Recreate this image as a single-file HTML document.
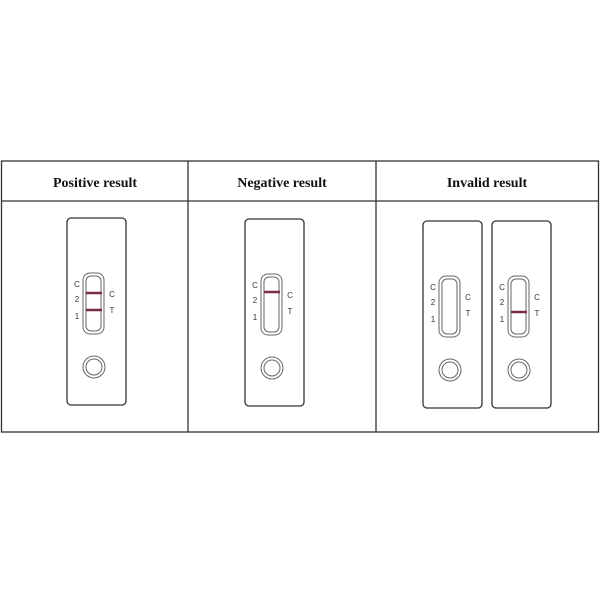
<!DOCTYPE html>
<html><head><style>body{margin:0;background:#fff}svg{display:block}</style></head>
<body>
<svg width="600" height="600" viewBox="0 0 600 600" xmlns="http://www.w3.org/2000/svg">
<rect x="1.5" y="161" width="597" height="271" fill="none" stroke="#333" stroke-width="1.3"/>
<line x1="1" y1="201" x2="599" y2="201" stroke="#333" stroke-width="1.3"/>
<line x1="188" y1="161" x2="188" y2="432" stroke="#333" stroke-width="1.3"/>
<line x1="376" y1="161" x2="376" y2="432" stroke="#333" stroke-width="1.3"/>
<g font-family="Liberation Serif, serif" font-weight="bold" font-size="14" text-anchor="middle" fill="#111">
<text x="95" y="187">Positive result</text>
<text x="282" y="187">Negative result</text>
<text x="487" y="187">Invalid result</text>
</g>
<defs>
<g id="card">
<rect x="0" y="0" width="59" height="187" rx="4" fill="#fff" stroke="#333" stroke-width="1.3"/>
<rect x="16" y="55" width="21" height="61" rx="7" fill="none" stroke="#666" stroke-width="1"/>
<rect x="19" y="58" width="15" height="55" rx="5" fill="none" stroke="#666" stroke-width="1"/>
<circle cx="27" cy="149" r="11" fill="none" stroke="#666" stroke-width="1"/>
<circle cx="27" cy="149" r="8" fill="none" stroke="#666" stroke-width="1"/>
<g font-family="Liberation Sans, sans-serif" font-size="8" fill="#333" text-anchor="middle">
<text x="10" y="69">C</text><text x="10" y="84">2</text><text x="10" y="101">1</text>
<text x="45" y="79">C</text><text x="45" y="95">T</text>
</g>
</g>
</defs>
<use href="#card" x="67" y="218"/>
<line x1="86" y1="293" x2="102" y2="293" stroke="#7a2e45" stroke-width="2.5"/>
<line x1="86" y1="310" x2="102" y2="310" stroke="#7a2e45" stroke-width="2.5"/>
<use href="#card" x="245" y="219"/>
<line x1="264" y1="292" x2="280" y2="292" stroke="#7a2e45" stroke-width="2.5"/>
<use href="#card" x="423" y="221"/>
<use href="#card" x="492" y="221"/>
<line x1="511" y1="312" x2="527" y2="312" stroke="#7a2e45" stroke-width="2.5"/>
</svg>
</body></html>
